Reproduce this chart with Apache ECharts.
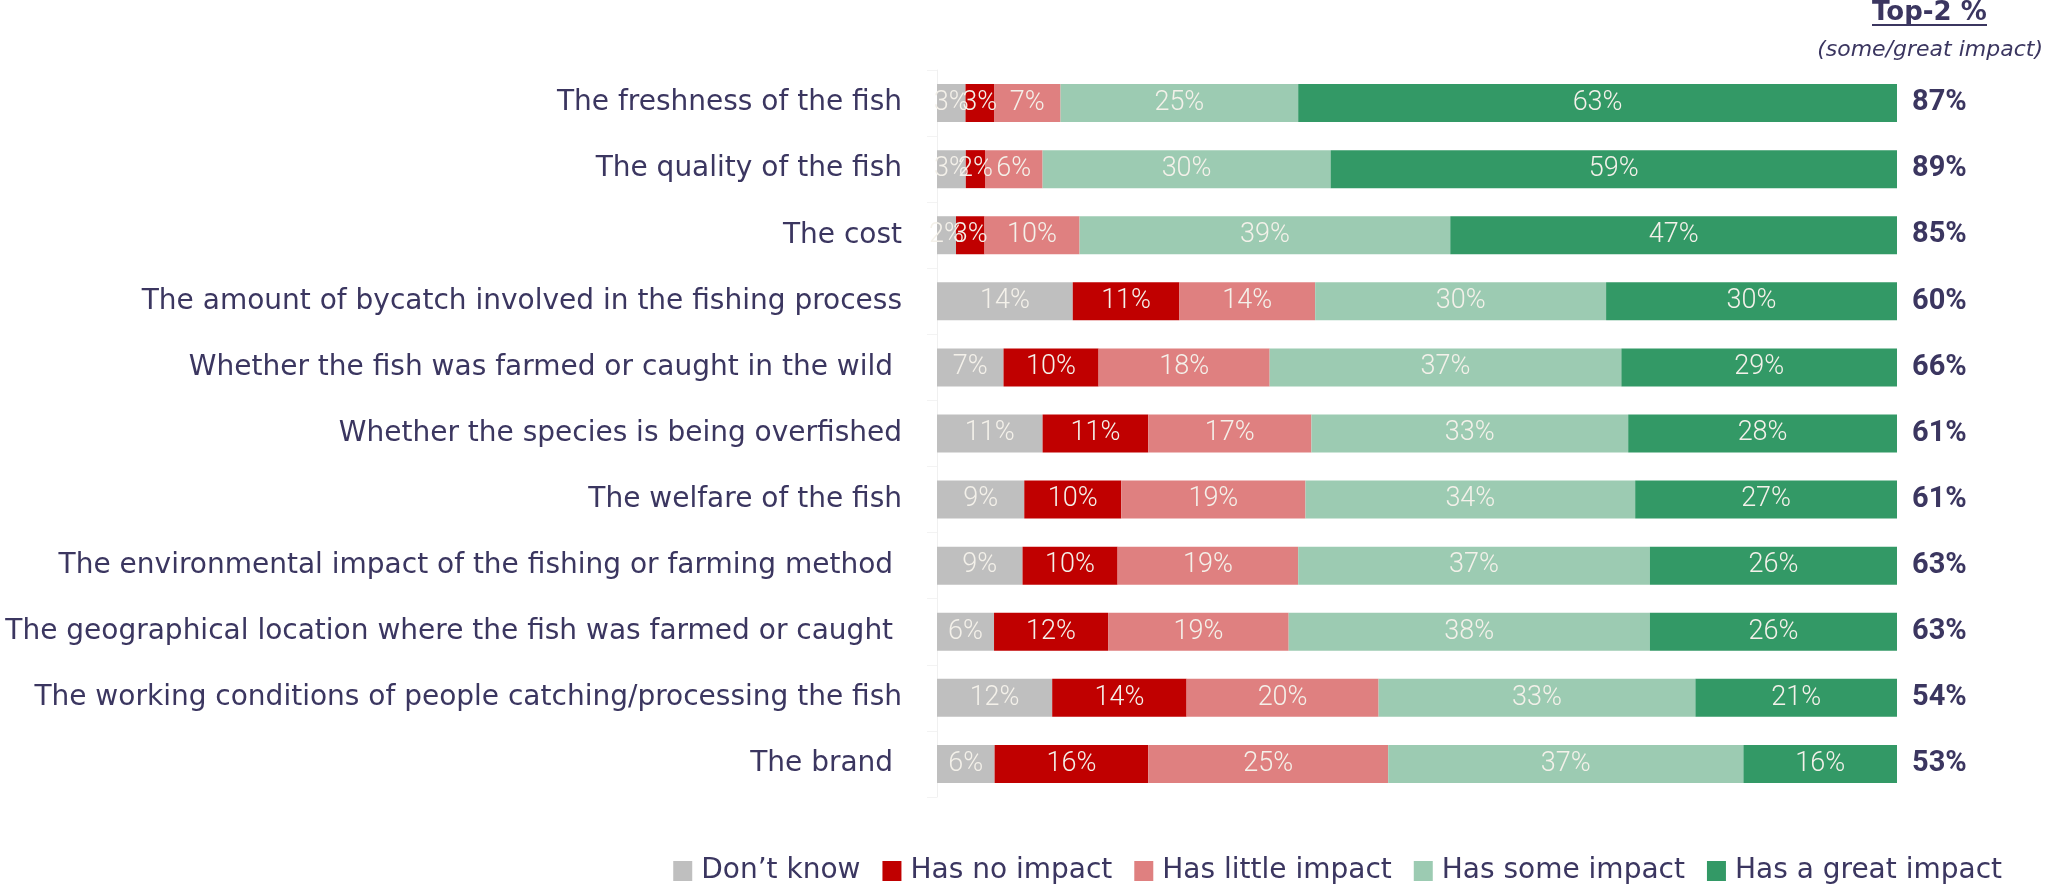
<!DOCTYPE html>
<html>
<head>
<meta charset="utf-8">
<script src="https://cdn.jsdelivr.net/npm/echarts@6/dist/echarts.min.js"></script>
<style>
html,body{margin:0;padding:0;background:#fff;}
#chart{width:2049px;height:886px;}
</style>
</head>
<body>
<div id="chart"></div>
<script>
const categories = [
  'The freshness of the fish',
  'The quality of the fish',
  'The cost',
  'The amount of bycatch involved in the fishing process',
  'Whether the fish was farmed or caught in the wild ',
  'Whether the species is being overfished',
  'The welfare of the fish',
  'The environmental impact of the fishing or farming method ',
  'The geographical location where the fish was farmed or caught ',
  'The working conditions of people catching/processing the fish',
  'The brand '
];
const seriesNames = ['Don\u2019t know', 'Has no impact', 'Has little impact', 'Has some impact', 'Has a great impact'];
const dontKnow     = [3, 3, 2, 14, 7, 11, 9, 9, 6, 12, 6];
const noImpact     = [3, 2, 3, 11, 10, 11, 10, 10, 12, 14, 16];
const littleImpact = [7, 6, 10, 14, 18, 17, 19, 19, 19, 20, 25];
const someImpact   = [25, 30, 39, 30, 37, 33, 34, 37, 38, 33, 37];
const greatImpact  = [63, 59, 47, 30, 29, 28, 27, 26, 26, 21, 16];
const top2Labels   = ['87%', '89%', '85%', '60%', '66%', '61%', '61%', '63%', '63%', '54%', '53%'];

const colors = ['#bfbfbf', '#c00000', '#df8080', '#9ccbb2', '#339966'];
const textColor = '#3b3660';
const font = 'DejaVu Sans';

const allValues = [dontKnow, noImpact, littleImpact, someImpact, greatImpact];
const rowSums = categories.map((_, i) => allValues.reduce((s, arr) => s + arr[i], 0));

const series = allValues.map((arr, k) => ({
  name: seriesNames[k],
  type: 'bar',
  stack: 'total',
  barWidth: 38,
  itemStyle: { color: colors[k] },
  label: {
    show: true,
    position: 'inside',
    color: '#f4f1ea',
    fontFamily: 'Roboto',
    fontWeight: 300,
    fontSize: 27,
    formatter: p => arr[p.dataIndex] + '%'
  },
  emphasis: { disabled: true },
  data: arr.map((v, i) => v / rowSums[i] * 100)
}));

// measure header text to size underline
const titleFont = 'bold 26px "DejaVu Sans"';
const mctx = document.createElement('canvas').getContext('2d');
mctx.font = titleFont;
const titleW = Math.round(mctx.measureText('Top-2 %').width);
const titleRight = 1987;

const chart = echarts.init(document.getElementById('chart'), null, { renderer: 'canvas' });
chart.setOption({
  animation: false,
  backgroundColor: '#ffffff',
  grid: { left: 937, right: 152, top: 70, bottom: 89, containLabel: false },
  xAxis: {
    type: 'value', min: 0, max: 100, show: false
  },
  yAxis: [
    {
      type: 'category',
      inverse: true,
      data: categories,
      axisLine: { show: true, lineStyle: { color: '#f0f0f0', width: 1 } },
      axisTick: { show: true, length: 10, lineStyle: { color: '#f3f3f3' } },
      axisLabel: { color: textColor, fontFamily: font, fontSize: 28, margin: 35, padding: [10, 0, 0, 0] }
    },
    {
      type: 'category',
      inverse: true,
      position: 'right',
      data: top2Labels,
      axisLine: { show: false },
      axisTick: { show: false },
      axisLabel: { color: textColor, fontFamily: 'Roboto', fontSize: 29, fontWeight: 'bold', margin: 15, padding: [12, 0, 0, 0] }
    }
  ],
  legend: {
    data: seriesNames,
    right: 47,
    top: 857,
    itemWidth: 19,
    itemHeight: 20,
    itemGap: 22,
    icon: 'rect',
    padding: 0,
    textStyle: { color: textColor, fontFamily: font, fontSize: 28, padding: [0, 0, 0, 4] }
  },
  graphic: [
    {
      type: 'text', left: titleRight - titleW, top: 0,
      style: { text: 'Top-2 %', font: titleFont, fill: textColor }
    },
    {
      type: 'rect', left: titleRight - titleW, top: 24,
      shape: { width: titleW, height: 2 },
      style: { fill: textColor }
    },
    {
      type: 'text', right: 6, top: 39,
      style: { text: '(some/great impact)', font: 'italic 22px "DejaVu Sans"', fill: textColor }
    }
  ],
  series: series
});
</script>
</body>
</html>
